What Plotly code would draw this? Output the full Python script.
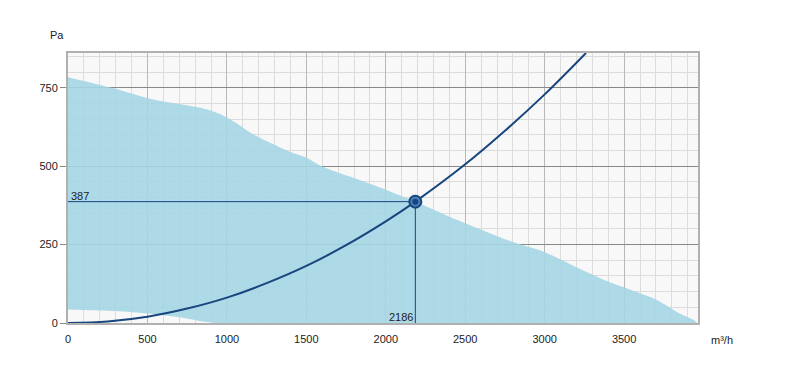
import plotly.graph_objects as go

# Fan working range (upper and lower boundary of the shaded area)
upper_q = [0, 283, 500, 700, 850, 950, 1050, 1150, 1250, 1400, 1500, 1600, 1800, 2000, 2186,
           2500, 2800, 3000, 3200, 3400, 3600, 3700, 3850, 3958]
upper_p = [784, 749, 717, 698, 684, 668, 640, 606, 580, 545, 527, 499, 462, 425, 387,
           318, 258, 226, 178, 132, 95, 75, 30, 0]
lower_q = [925, 700, 500, 300, 0]
lower_p = [0, 18, 30, 38, 43]

# System curve
system_q = [0, 250, 500, 750, 1000, 1250, 1500, 1750, 2000, 2186, 2500, 2750, 3000, 3260]
system_p = [0, 5, 20, 46, 81, 127, 182, 248, 324, 387, 506, 613, 729, 861]

# Operating point
op_q = 2186
op_p = 387

x_ticks = [0, 500, 1000, 1500, 2000, 2500, 3000, 3500]
y_ticks = [0, 250, 500, 750]

DARK = "#17457d"
FONT = "Liberation Sans, Arial, sans-serif"

# page body has an 8px margin; size the figure to fit the window
W, H = 771, 361
L, T = 60, 45
PW, PH = 630, 270

poly_q = upper_q + lower_q
poly_p = upper_p + lower_p

fig = go.Figure()
fig.add_trace(go.Scatter(
    x=poly_q, y=poly_p, fill="toself", mode="lines",
    line=dict(width=0, shape="spline", smoothing=0.8),
    fillcolor="rgba(165,213,228,0.9)", hoverinfo="skip"))

fig.add_trace(go.Scatter(
    x=system_q, y=system_p, mode="lines", line=dict(color=DARK, width=2, shape="spline"),
    hoverinfo="skip"))

fig.add_trace(go.Scatter(
    x=[0, op_q, op_q], y=[op_p, op_p, 0], mode="lines",
    line=dict(color=DARK, width=1), hoverinfo="skip"))

fig.add_trace(go.Scatter(
    x=[op_q], y=[op_p], mode="markers",
    marker=dict(size=12, color="#4a7fb8", line=dict(color=DARK, width=2)), hoverinfo="skip"))
fig.add_trace(go.Scatter(
    x=[op_q], y=[op_p], mode="markers",
    marker=dict(size=6, color=DARK), hoverinfo="skip"))

fig.add_annotation(x=0, y=op_p, text=str(op_p), showarrow=False, xanchor="left", yanchor="bottom",
                   xshift=1, yshift=-2, font=dict(size=11, color="#222", family=FONT))
fig.add_annotation(x=op_q, y=0, text=str(op_q), showarrow=False, xanchor="right", yanchor="bottom",
                   xshift=0, yshift=-2, font=dict(size=11, color="#222", family=FONT))
fig.add_annotation(x=(57 - 68) / PW, y=(323 - 35) / PH, xref="paper", yref="paper", text="Pa",
                   xanchor="center", yanchor="middle",
                   showarrow=False, font=dict(size=11, color="#222", family=FONT))
fig.add_annotation(x=(722 - 68) / PW, y=(323 - 340) / PH, xref="paper", yref="paper", text="m³/h",
                   xanchor="center", yanchor="middle",
                   showarrow=False, font=dict(size=11, color="#222", family=FONT))

fig.update_layout(
    width=W, height=H,
    margin=dict(l=L, r=W - L - PW, t=T, b=H - T - PH),
    paper_bgcolor="white", plot_bgcolor="#f8f8f8",
    showlegend=False,
    font=dict(family=FONT, size=11, color="#222"),
    xaxis=dict(range=[0, 3965], tickvals=x_ticks, showgrid=True, gridcolor="#b8b8b8", gridwidth=1,
               minor=dict(dtick=100, tick0=0, showgrid=True, gridcolor="#dcdcdc", gridwidth=1),
               showline=True, linecolor="#b0b0b0", linewidth=2, mirror=True,
               ticks="outside", ticklen=5, tickcolor="rgba(0,0,0,0)", zeroline=False,
               tickfont=dict(size=11, color="#222")),
    yaxis=dict(range=[0, 861], tickvals=y_ticks, showgrid=True, gridcolor="#888888", gridwidth=1,
               minor=dict(dtick=50, tick0=0, showgrid=True, gridcolor="#dcdcdc", gridwidth=1),
               showline=True, linecolor="#b0b0b0", linewidth=2, mirror=True,
               ticks="outside", ticklen=6, tickcolor="#888888", zeroline=False,
               tickfont=dict(size=11, color="#222")),
)

fig.write_html("out.html")
